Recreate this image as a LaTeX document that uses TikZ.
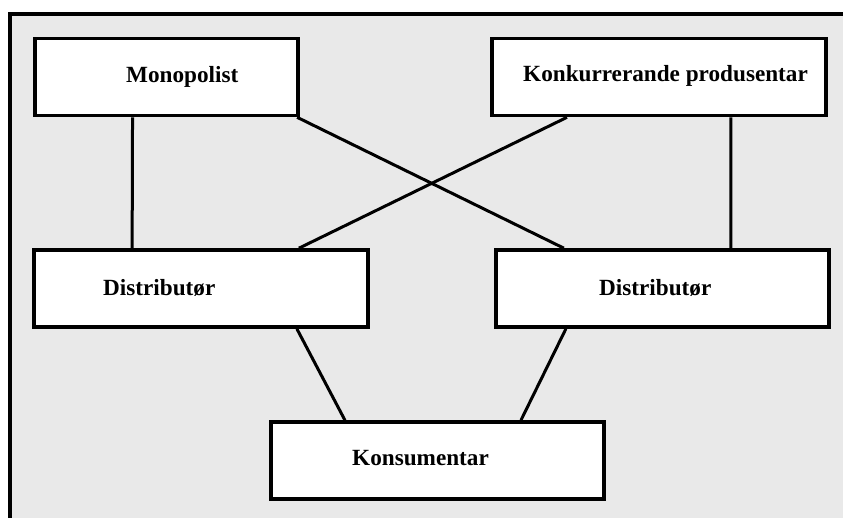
\documentclass[tikz,border=0pt]{standalone}
\usepackage{fontspec}
\setmainfont{Liberation Serif}
\usetikzlibrary{calc}
\definecolor{bggray}{HTML}{E9E9E9}
\tikzset{
  box/.style={draw=black, fill=white, line width=3.6pt, rectangle, inner sep=0pt, minimum width=#1, minimum height=77pt},
  lbl/.style={anchor=base west, inner sep=0pt, font=\fontsize{23.2}{27}\selectfont\bfseries},
  link/.style={draw=black, line width=3pt}
}
\begin{document}
\begin{tikzpicture}[x=1pt,y=-1pt]
\useasboundingbox (0,0) rectangle (843,518);
% frame
\fill[bggray] (10,14) rectangle (845,520);
\draw[line width=3.6pt] (10,520) -- (10,14) -- (845,14);
% connectors (drawn under boxes)
\node[box=263pt] (mono) at (166.5,77) {};
\node[box=334pt] (konk) at (659,77) {};
\node[box=334pt] (dl) at (201,288.5) {};
\node[box=333pt] (dr) at (662.5,288.5) {};
\node[box=333pt] (kons) at (437.5,460.5) {};
\draw[link] ($(mono.south west)!0.3726!(mono.south east)$) -- ($(dl.north west)!0.296!(dl.north east)$);
\draw[link] ($(mono.south west)!0.99!(mono.south east)$) -- ($(dr.north west)!0.207!(dr.north east)$);
\draw[link] ($(konk.south west)!0.2275!(konk.south east)$) -- ($(dl.north west)!0.79!(dl.north east)$);
\draw[link] ($(konk.south west)!0.7126!(konk.south east)$) -- ($(dr.north west)!0.703!(dr.north east)$);
\draw[link] ($(dl.south west)!0.784!(dl.south east)$) -- ($(kons.north west)!0.225!(kons.north east)$);
\draw[link] ($(dr.south west)!0.213!(dr.south east)$) -- ($(kons.north west)!0.748!(kons.north east)$);
% labels
\node[lbl] (tmono) at (126,83) {Monopolist};
\node[lbl] (tkonk) at (523,82) {Konkurrerande produsentar};
\node[lbl] (tdl) at (103,296) {Distributør};
\node[lbl] (tdr) at (599,296) {Distributør};
\node[lbl] (tkons) at (352,465) {Konsumentar};
\end{tikzpicture}
\end{document}
